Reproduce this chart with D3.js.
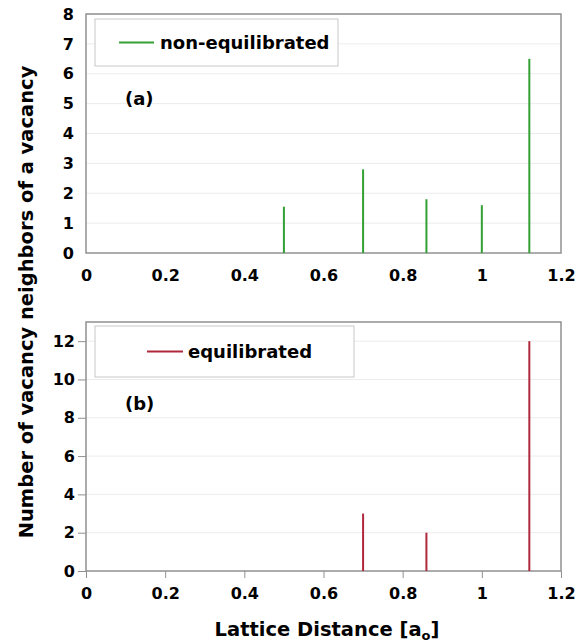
<!DOCTYPE html>
<html>
<head>
<meta charset="utf-8">
<script src="https://cdn.jsdelivr.net/npm/d3@7"></script>
<style>
  body { margin: 0; background: #fff; }
  text { font-family: "DejaVu Sans", Verdana, sans-serif; font-weight: bold; fill: #000; }
</style>
</head>
<body>
<svg id="chart" width="577" height="642"></svg>
<script>
// ---- data ----
const distancesA = [0.5, 0.7, 0.86, 1.0, 1.12];
const countsA = [1.55, 2.8, 1.8, 1.6, 6.5];
const distancesB = [0.7, 0.86, 1.12];
const countsB = [3, 2, 12];
const xTicks = [0, 0.2, 0.4, 0.6, 0.8, 1, 1.2];
const yTicksA = [0, 1, 2, 3, 4, 5, 6, 7, 8];
const yTicksB = [0, 2, 4, 6, 8, 10, 12];
const seriesNames = ["non-equilibrated", "equilibrated"];
const panelLabels = ["(a)", "(b)"];
const colors = ["#33a033", "#b0283c"];

const svg = d3.select("#chart");

const panels = [
  { xs: distancesA, ys: countsA, yMax: 8, yTicks: yTicksA, top: 14, bottom: 253,
    name: seriesNames[0], label: panelLabels[0], color: colors[0], yTickMarks: false, xTickMarks: false,
    legend: { x: 95, y: 19, w: 243, h: 47, lx1: 119, lx2: 154, tx: 160 } },
  { xs: distancesB, ys: countsB, yMax: 13, yTicks: yTicksB, top: 322, bottom: 571,
    name: seriesNames[1], label: panelLabels[1], color: colors[1], yTickMarks: true, xTickMarks: true,
    legend: { x: 95, y: 326, w: 259, h: 51, lx1: 147, lx2: 183, tx: 188 } }
];

const left = 86, right = 561;
const x = d3.scaleLinear().domain([0, 1.2]).range([left, right]);

panels.forEach(p => {
  const y = d3.scaleLinear().domain([0, p.yMax]).range([p.bottom, p.top]);
  const g = svg.append("g");

  // gridlines
  g.append("g").selectAll("line").data(p.yTicks.filter(t => t > 0))
    .join("line")
    .attr("x1", left).attr("x2", right)
    .attr("y1", d => y(d)).attr("y2", d => y(d))
    .attr("stroke", "#ececec").attr("stroke-width", 1);

  // plot frame
  g.append("rect")
    .attr("x", left).attr("y", p.top)
    .attr("width", right - left).attr("height", p.bottom - p.top)
    .attr("fill", "none").attr("stroke", "#909090").attr("stroke-width", 1.5);

  // y axis
  const yAxis = d3.axisLeft(y).tickValues(p.yTicks).tickFormat(d3.format("d"))
    .tickSize(p.yTickMarks ? 8 : 0).tickPadding(p.yTickMarks ? 3 : 12);
  const ya = g.append("g").attr("transform", `translate(${left},0)`).call(yAxis);
  ya.select(".domain").remove();
  ya.selectAll("line").attr("stroke", "#909090");
  ya.selectAll("text").attr("font-size", 16).attr("font-family", "DejaVu Sans").attr("font-weight", "bold").attr("fill", "#000");

  // x axis
  const xAxis = d3.axisBottom(x).tickValues(xTicks).tickFormat(d => d3.format("")(d))
    .tickSize(p.xTickMarks ? 7 : 0).tickPadding(p.xTickMarks ? 10 : 17);
  const xa = g.append("g").attr("transform", `translate(0,${p.bottom})`).call(xAxis);
  xa.select(".domain").remove();
  xa.selectAll("line").attr("stroke", "#909090");
  xa.selectAll("text").attr("font-size", 16).attr("font-family", "DejaVu Sans").attr("font-weight", "bold").attr("fill", "#000");

  // stems
  const data = p.xs.map((d, i) => ({ x: d, y: p.ys[i] }));
  g.append("g").selectAll("line").data(data).join("line")
    .attr("x1", d => x(d.x)).attr("x2", d => x(d.x))
    .attr("y1", y(0)).attr("y2", d => y(d.y))
    .attr("stroke", p.color).attr("stroke-width", 2);

  // legend
  const L = p.legend;
  g.append("rect").attr("x", L.x).attr("y", L.y).attr("width", L.w).attr("height", L.h)
    .attr("fill", "#fff").attr("stroke", "#c8c8c8").attr("stroke-width", 1);
  g.append("line").attr("x1", L.lx1).attr("x2", L.lx2)
    .attr("y1", L.y + L.h / 2).attr("y2", L.y + L.h / 2)
    .attr("stroke", p.color).attr("stroke-width", 2);
  g.append("text").attr("x", L.tx).attr("y", L.y + L.h / 2 + 6)
    .attr("font-size", 18).text(p.name);

  // panel label
  g.append("text").attr("x", 125).attr("y", p.top + (p === panels[0] ? 91 : 88))
    .attr("font-size", 18).text(p.label);
});

// y axis title
svg.append("text")
  .attr("transform", "translate(33,302) rotate(-90)")
  .attr("text-anchor", "middle")
  .attr("font-size", 19.5)
  .text("Number of vacancy neighbors of a vacancy");

// x axis title
const xt = svg.append("text")
  .attr("x", 327).attr("y", 636)
  .attr("text-anchor", "middle")
  .attr("font-size", 19.5);
xt.append("tspan").text("Lattice Distance [a");
xt.append("tspan").attr("font-size", 13).attr("dy", 4).text("o");
xt.append("tspan").attr("dy", -4).text("]");
</script>
</body>
</html>
